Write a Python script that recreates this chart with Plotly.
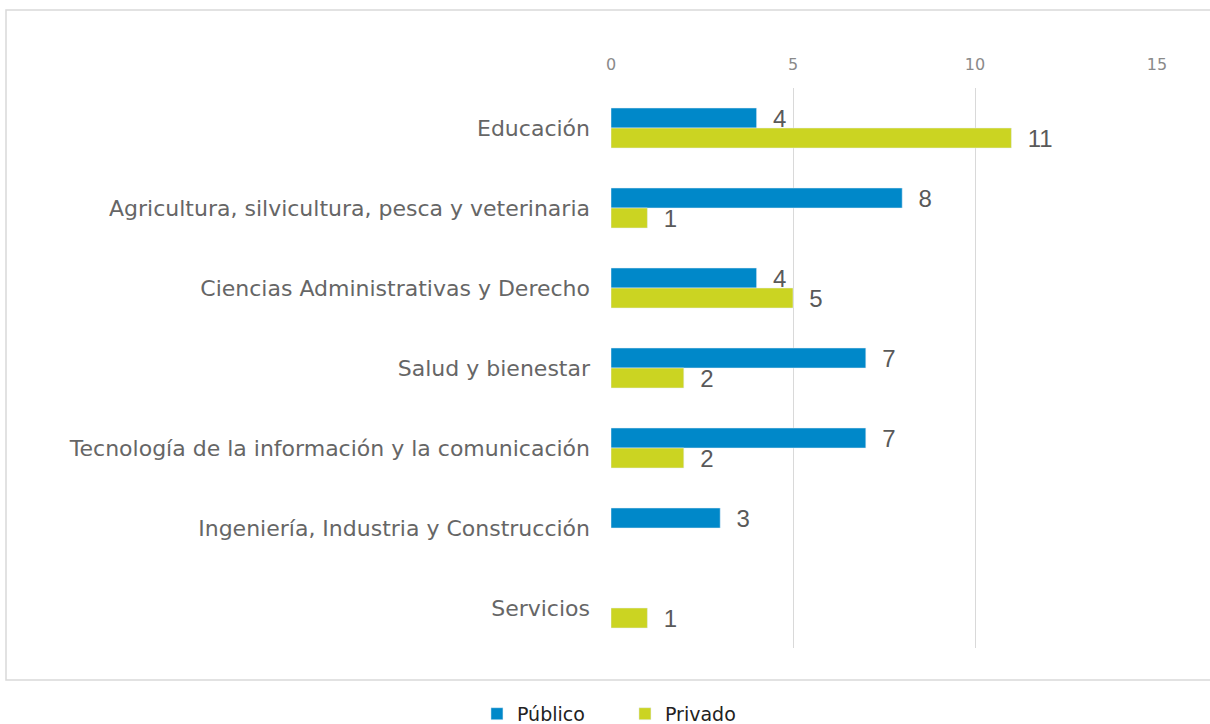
import plotly.graph_objects as go

categories = ["Educación", "Agricultura, silvicultura, pesca y veterinaria",
              "Ciencias Administrativas y Derecho", "Salud y bienestar",
              "Tecnología de la información y la comunicación",
              "Ingeniería, Industria y Construcción", "Servicios"]
publico = [4, 8, 4, 7, 7, 3, None]
privado = [11, 1, 5, 2, 2, None, 1]
x_ticks = [0, 5, 10, 15]

W, H = 1210, 724
L, R, T, B = 611, 53, 88, 76

def lbl(vals):
    return ["" if v is None else "  " + str(v) for v in vals]

fig = go.Figure()
fig.add_trace(go.Bar(y=categories, x=publico, name="Público", orientation="h",
                     marker=dict(color="#0088C9"), text=lbl(publico),
                     textposition="outside", cliponaxis=False, constraintext="none",
                     textfont=dict(size=24, color="#595959", family="Liberation Sans")))
fig.add_trace(go.Bar(y=categories, x=privado, name="Privado", orientation="h",
                     marker=dict(color="#CBD422"), text=lbl(privado),
                     textposition="outside", cliponaxis=False, constraintext="none",
                     textfont=dict(size=24, color="#595959", family="Liberation Sans")))

pw = W - L - R
ph = H - T - B
fig.add_shape(type="rect", xref="paper", yref="paper",
              x0=(6 - L) / pw, x1=(1212 - L) / pw,
              y0=(H - B - 680) / ph, y1=(H - B - 10) / ph,
              line=dict(color="#d9d9d9", width=1.5), fillcolor="rgba(0,0,0,0)", layer="below")

fig.update_layout(
    width=W, height=H,
    margin=dict(l=L, r=R, t=T, b=B),
    paper_bgcolor="white", plot_bgcolor="white",
    barmode="group", bargap=0.5, bargroupgap=0,
    font=dict(family="DejaVu Sans, sans-serif", color="#666666"),
    xaxis=dict(range=[0, 15], tickvals=x_ticks, side="top",
               showgrid=True, gridcolor="#d9d9d9", gridwidth=1,
               zeroline=False, showline=False,
               tickfont=dict(size=16, color="#8a8a8a"), ticklabelstandoff=14),
    yaxis=dict(autorange="reversed", showgrid=False, zeroline=False, showline=False,
               tickfont=dict(size=22, color="#666666"), ticklabelstandoff=20),
    legend=dict(orientation="h", xref="container", yref="container",
                x=0.5165, xanchor="center", y=0.014, yanchor="middle",
                font=dict(size=19, color="#222222"), traceorder="normal",
                itemwidth=30, entrywidth=103),
    showlegend=True,
)

fig.write_html("out.html", config={"displayModeBar": False},
               post_script="document.body.style.margin='0';document.body.style.overflow='hidden';")
